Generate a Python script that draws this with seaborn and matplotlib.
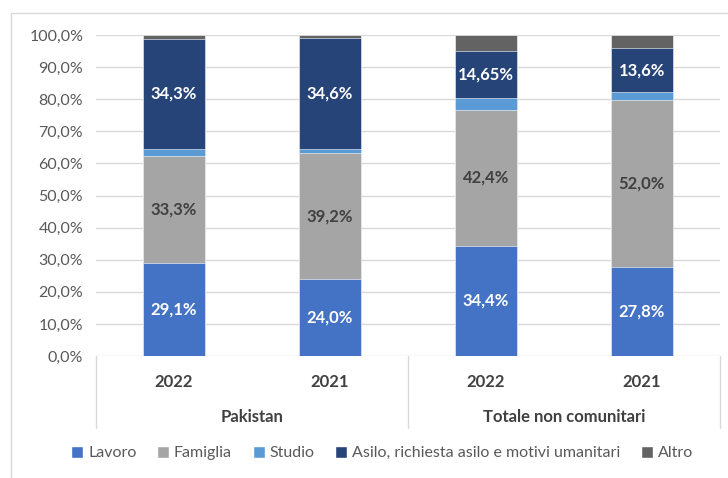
#Import libraries
import pandas as pd
import seaborn as sns
import matplotlib.pyplot as plt
from matplotlib.patches import Patch, Rectangle

#Chart data
groups = ['Pakistan', 'Totale non comunitari']
years = ['2022', '2021', '2022', '2021']
lavoro = [29.1, 24.0, 34.4, 27.8]
famiglia = [33.3, 39.2, 42.4, 52.0]
studio = [2.1, 1.3, 3.6, 2.5]
asilo = [34.3, 34.6, 14.65, 13.6]
altro = [1.2, 0.9, 4.95, 4.1]
series = ['Lavoro', 'Famiglia', 'Studio', 'Asilo, richiesta asilo e motivi umanitari', 'Altro']
colors = ['#4472C4', '#A5A5A5', '#5B9BD5', '#264478', '#636363']

#Build table, one row per bar
df = pd.DataFrame({'bar': ['P2022', 'P2021', 'T2022', 'T2021'],
                   series[0]: lavoro, series[1]: famiglia, series[2]: studio,
                   series[3]: asilo, series[4]: altro})
cum = df[series].cumsum(axis=1)
cum['bar'] = df['bar']

sns.set_theme(style='white')
plt.rcParams['font.family'] = ['Lato', 'DejaVu Sans']

fig = plt.figure(figsize=(7.28, 4.78), dpi=100)
ax = fig.add_axes([0.1315, 0.2552, 0.8575, 0.6715])

#Stacked bars: draw cumulative totals from the top down
for name, color in reversed(list(zip(series, colors))):
    sns.barplot(x='bar', y=name, data=cum, color=color, width=0.4, ax=ax,
                edgecolor='white', linewidth=0.4, saturation=1, zorder=3)


def fmt(v):
    s = f'{v:.1f}' if round(v, 1) == v else f'{v:.2f}'
    return s.replace('.', ',') + '%'


#Data labels
for i in range(len(df)):
    ax.text(i, lavoro[i] / 2, fmt(lavoro[i]), ha='center', va='center',
            color='white', fontsize=12, fontweight='bold', zorder=5)
    ax.text(i, lavoro[i] + famiglia[i] / 2, fmt(famiglia[i]), ha='center', va='center',
            color='#404040', fontsize=12, fontweight='bold', zorder=5)
    base = lavoro[i] + famiglia[i] + studio[i]
    ax.text(i, base + asilo[i] / 2, fmt(asilo[i]), ha='center', va='center',
            color='white', fontsize=12, fontweight='bold', zorder=5)

#Axes styling
ax.set_xlim(-0.5, 3.5)
ax.set_ylim(0, 100)
ax.set_yticks(range(0, 101, 10))
ax.set_yticklabels([f'{t:.1f}%'.replace('.', ',') for t in range(0, 101, 10)],
                   color='#595959', fontsize=11.5)
ax.tick_params(axis='y', length=0, pad=9)
ax.set_xticks([])
ax.set_xlabel('')
ax.set_ylabel('')
ax.grid(axis='y', color='#d9d9d9', linewidth=1, zorder=0)
for sp in ax.spines.values():
    sp.set_visible(False)

#Hierarchical x axis
trans = ax.get_xaxis_transform()
for i, y in enumerate(years):
    ax.text(i, -0.081, y, transform=trans, ha='center', va='center',
            fontsize=12, fontweight='bold', color='#404040')
for g, x in zip(groups, [0.5, 2.5]):
    ax.text(x, -0.19, g, transform=trans, ha='center', va='center',
            fontsize=12, fontweight='bold', color='#404040')
for x in [-0.5, 1.5, 3.5]:
    ax.plot([x, x], [0, -0.224], transform=trans, color='#d9d9d9',
            linewidth=1, clip_on=False)

#Legend
handles = [Patch(facecolor=c, label=s) for s, c in zip(series, colors)]
fig.legend(handles=handles, loc='center', bbox_to_anchor=(0.525, 0.052), ncol=5,
           frameon=False, fontsize=11.5, handlelength=0.75, handleheight=0.75,
           handletextpad=0.3, columnspacing=1.3, labelcolor='#595959')

#Chart border
fig.add_artist(Rectangle((11 / 728, -0.1), 1.1, 1 - 13 / 478 + 0.1,
                         transform=fig.transFigure, fill=False,
                         edgecolor='#d9d9d9', linewidth=1))

fig.savefig('out.png', dpi=100)
